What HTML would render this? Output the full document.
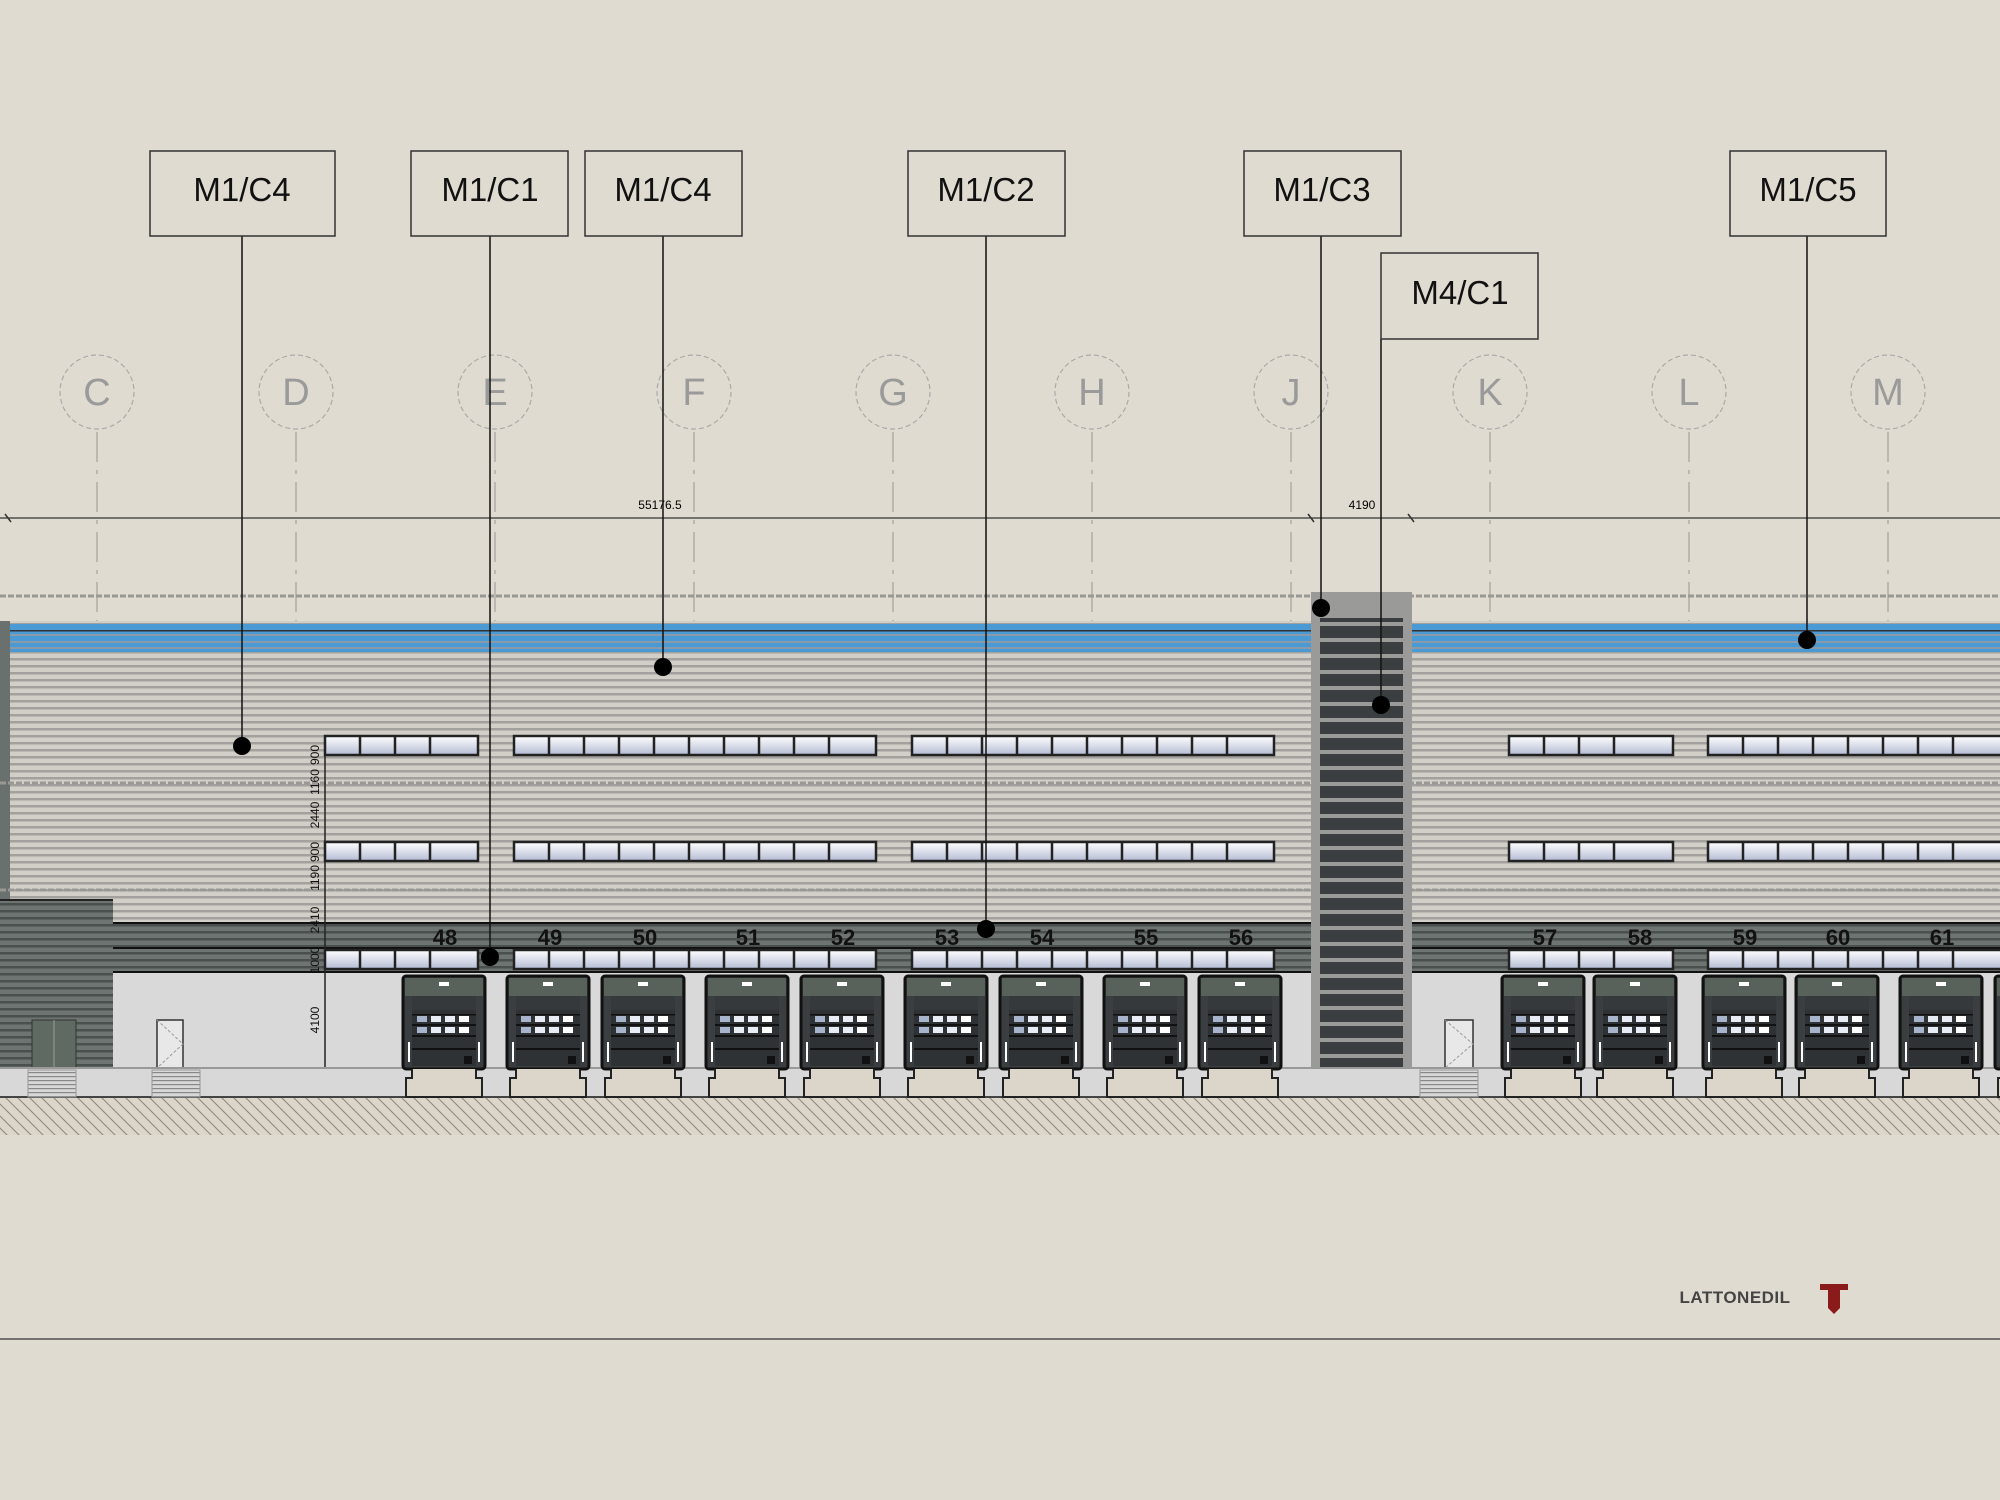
<!DOCTYPE html>
<html><head><meta charset="utf-8"><style>
html,body{margin:0;padding:0;background:#e0dbd0;}
svg{display:block;font-family:"Liberation Sans",sans-serif;}
</style></head><body>
<svg width="2000" height="1500" viewBox="0 0 2000 1500" xmlns="http://www.w3.org/2000/svg">
<defs>
<pattern id="sid" width="10" height="7" patternUnits="userSpaceOnUse">
<rect width="10" height="7" fill="#d2cfc8"/><rect y="0" width="10" height="2.5" fill="#a3a19d"/>
</pattern>
<pattern id="sidd" width="10" height="7" patternUnits="userSpaceOnUse">
<rect width="10" height="7" fill="#6e7472"/><rect y="0" width="10" height="2.5" fill="#4a504e"/>
</pattern>
<pattern id="stair" width="10" height="16" patternUnits="userSpaceOnUse">
<rect width="10" height="16" fill="#9a9a98"/><rect y="2" width="10" height="12" fill="#3a3e41"/>
</pattern>
<pattern id="hatch" width="12" height="12" patternUnits="userSpaceOnUse">
<rect width="12" height="12" fill="#dcd6ca"/><path d="M0,0 L12,12 M-6,6 L6,18 M6,-6 L18,6" stroke="#8a867e" stroke-width="1"/>
</pattern>
<pattern id="steps" width="10" height="4" patternUnits="userSpaceOnUse">
<rect width="10" height="4" fill="#d8d8d8"/><rect width="10" height="1.2" fill="#888"/>
</pattern>
<linearGradient id="glass" x1="0" y1="0" x2="0" y2="1">
<stop offset="0" stop-color="#ffffff"/><stop offset="1" stop-color="#b4bcd4"/>
</linearGradient>
<g id="wrow">
<rect x="325" y="0" width="153" height="19" fill="url(#glass)" stroke="#222" stroke-width="2.5"/>
<rect x="514" y="0" width="362" height="19" fill="url(#glass)" stroke="#222" stroke-width="2.5"/>
<rect x="912" y="0" width="362" height="19" fill="url(#glass)" stroke="#222" stroke-width="2.5"/>
<rect x="1509" y="0" width="164" height="19" fill="url(#glass)" stroke="#222" stroke-width="2.5"/>
<rect x="1708" y="0" width="300" height="19" fill="url(#glass)" stroke="#222" stroke-width="2.5"/>
<path d="M360,0v19M395,0v19M430,0v19M549,0v19M584,0v19M619,0v19M654,0v19M689,0v19M724,0v19M759,0v19M794,0v19M829,0v19M947,0v19M982,0v19M1017,0v19M1052,0v19M1087,0v19M1122,0v19M1157,0v19M1192,0v19M1227,0v19M1544,0v19M1579,0v19M1614,0v19M1743,0v19M1778,0v19M1813,0v19M1848,0v19M1883,0v19M1918,0v19M1953,0v19" stroke="#222" stroke-width="2.5" fill="none"/>
</g>
<g id="door">
<rect x="1" y="0" width="82" height="93" rx="3" fill="#3a3e40" stroke="#111" stroke-width="3"/>
<rect x="3" y="2" width="78" height="18" fill="#58625a"/>
<rect x="37" y="6" width="10" height="4" fill="#fff"/>
<rect x="10" y="20" width="64" height="70" fill="#2e3234"/>
<rect x="10" y="20" width="64" height="14" fill="#35393b"/>
<g fill="#e8ecf4"><rect x="15" y="40" width="10" height="6" fill="#a8b4cc"/><rect x="29" y="40" width="10" height="6"/><rect x="43" y="40" width="10" height="6"/><rect x="57" y="40" width="10" height="6" fill="#fff"/>
<rect x="15" y="51" width="10" height="6" fill="#a8b4cc"/><rect x="29" y="51" width="10" height="6"/><rect x="43" y="51" width="10" height="6"/><rect x="57" y="51" width="10" height="6" fill="#fff"/></g>
<rect x="10" y="38" width="64" height="1.5" fill="#111"/><rect x="10" y="48" width="64" height="2" fill="#111"/><rect x="10" y="59" width="64" height="2" fill="#111"/>
<rect x="10" y="72" width="64" height="2" fill="#111"/>
<rect x="6" y="66" width="2" height="20" fill="#fff"/><rect x="76" y="66" width="2" height="20" fill="#fff"/>
<rect x="62" y="80" width="8" height="8" fill="#111"/>
<path d="M10,93 L10,102 L4,102 L4,121 L80,121 L80,102 L74,102 L74,93" fill="#dcd6ca" stroke="#222" stroke-width="2"/>
</g>
</defs>

<!-- grid circles -->
<g font-size="38" fill="#9a9a9a" text-anchor="middle">
<g stroke="#aaa" stroke-width="1.2" stroke-dasharray="5,3" fill="none">
<circle cx="97" cy="392" r="37"/><circle cx="296" cy="392" r="37"/><circle cx="495" cy="392" r="37"/><circle cx="694" cy="392" r="37"/><circle cx="893" cy="392" r="37"/><circle cx="1092" cy="392" r="37"/><circle cx="1291" cy="392" r="37"/><circle cx="1490" cy="392" r="37"/><circle cx="1689" cy="392" r="37"/><circle cx="1888" cy="392" r="37"/>
</g>
<text x="97" y="405">C</text><text x="296" y="405">D</text><text x="495" y="405">E</text><text x="694" y="405">F</text><text x="893" y="405">G</text><text x="1092" y="405">H</text><text x="1291" y="405">J</text><text x="1490" y="405">K</text><text x="1689" y="405">L</text><text x="1888" y="405">M</text>
</g>
<g stroke="#b0aca4" stroke-width="1.5" stroke-dasharray="30,8,4,8">
<path d="M97,432V1135M296,432V1135M495,432V1135M694,432V1135M893,432V1135M1092,432V1135M1291,432V1135M1490,432V1135M1689,432V1135M1888,432V1135"/>
</g>

<!-- dimension line -->
<line x1="0" y1="518" x2="2000" y2="518" stroke="#333" stroke-width="1.2"/>
<g stroke="#333" stroke-width="1.5"><path d="M5,514l6,8M1308,514l6,8M1408,514l6,8"/></g>
<text x="660" y="509" font-size="12" text-anchor="middle">55176.5</text>
<text x="1362" y="509" font-size="12" text-anchor="middle">4190</text>

<!-- roof dashed line -->
<line x1="0" y1="596" x2="2000" y2="596" stroke="#9a9894" stroke-width="3" stroke-dasharray="6,2"/>

<!-- main wall -->
<rect x="0" y="621" width="2000" height="447" fill="url(#sid)"/>
<rect x="0" y="624" width="2000" height="28" fill="#4a9ad6"/>
<g fill="#8a9aa8"><rect x="0" y="634" width="2000" height="2"/><rect x="0" y="641" width="2000" height="2"/><rect x="0" y="647" width="2000" height="2"/></g>
<rect x="0" y="630" width="2000" height="1.5" fill="#333"/>
<rect x="0" y="621" width="10" height="447" fill="#6a706e"/>
<line x1="0" y1="783" x2="2000" y2="783" stroke="#9a9894" stroke-width="3" stroke-dasharray="6,2"/>
<line x1="0" y1="890" x2="2000" y2="890" stroke="#9a9894" stroke-width="3" stroke-dasharray="6,2"/>

<!-- dark band -->
<rect x="0" y="922" width="2000" height="26" fill="url(#sidd)"/>
<rect x="0" y="922" width="2000" height="2" fill="#111"/>
<rect x="0" y="948" width="2000" height="24" fill="url(#sidd)"/>
<rect x="0" y="947" width="2000" height="2" fill="#111"/>
<rect x="0" y="972" width="2000" height="96" fill="#d9d9d9"/>
<line x1="0" y1="972" x2="2000" y2="972" stroke="#111" stroke-width="2"/>

<!-- left annex -->
<rect x="0" y="900" width="113" height="168" fill="url(#sidd)"/>
<rect x="0" y="899" width="113" height="2" fill="#222"/>
<rect x="32" y="1020" width="44" height="48" fill="#5f6a63" stroke="#333"/>
<line x1="54" y1="1020" x2="54" y2="1068" stroke="#999"/>
<rect x="157" y="1020" width="26" height="48" fill="#e8e8e8" stroke="#333" stroke-width="1.5"/>
<path d="M157,1020 L183,1044 L157,1068" stroke="#999" fill="none" stroke-dasharray="3,2"/>

<!-- stair tower -->
<rect x="1311" y="592" width="101" height="476" fill="#9a9a98"/>
<rect x="1320" y="618" width="83" height="450" fill="url(#stair)"/>

<rect x="1445" y="1020" width="28" height="48" fill="#e8e8e8" stroke="#333" stroke-width="1.5"/>
<path d="M1445,1020 L1473,1044 L1445,1068" stroke="#999" fill="none" stroke-dasharray="3,2"/>

<!-- windows -->
<use href="#wrow" y="736"/>
<use href="#wrow" y="842"/>
<use href="#wrow" y="950"/>

<!-- vertical dimension -->
<line x1="325" y1="736" x2="325" y2="1068" stroke="#222" stroke-width="1.5"/>
<g font-size="12" fill="#111">
<text transform="translate(319,755) rotate(-90)" text-anchor="middle">900</text>
<text transform="translate(319,782) rotate(-90)" text-anchor="middle">1160</text>
<text transform="translate(319,815) rotate(-90)" text-anchor="middle">2440</text>
<text transform="translate(319,852) rotate(-90)" text-anchor="middle">900</text>
<text transform="translate(319,878) rotate(-90)" text-anchor="middle">1190</text>
<text transform="translate(319,920) rotate(-90)" text-anchor="middle">2410</text>
<text transform="translate(319,960) rotate(-90)" text-anchor="middle">1000</text>
<text transform="translate(319,1020) rotate(-90)" text-anchor="middle">4100</text>
</g>

<!-- ground -->
<rect x="0" y="1068" width="2000" height="29" fill="#d8d8d8"/>
<line x1="0" y1="1068" x2="2000" y2="1068" stroke="#999" stroke-width="2"/>
<rect x="0" y="1097" width="2000" height="38" fill="url(#hatch)"/>
<line x1="0" y1="1097" x2="2000" y2="1097" stroke="#444" stroke-width="2"/>
<rect x="28" y="1070" width="48" height="27" fill="url(#steps)" stroke="#999"/>
<rect x="152" y="1070" width="48" height="27" fill="url(#steps)" stroke="#999"/>
<rect x="1420" y="1070" width="58" height="27" fill="url(#steps)" stroke="#999"/>

<!-- doors -->
<use href="#door" x="402" y="976"/><use href="#door" x="506" y="976"/><use href="#door" x="601" y="976"/><use href="#door" x="705" y="976"/><use href="#door" x="800" y="976"/><use href="#door" x="904" y="976"/><use href="#door" x="999" y="976"/><use href="#door" x="1103" y="976"/><use href="#door" x="1198" y="976"/><use href="#door" x="1501" y="976"/><use href="#door" x="1593" y="976"/><use href="#door" x="1702" y="976"/><use href="#door" x="1795" y="976"/><use href="#door" x="1899" y="976"/><use href="#door" x="1994" y="976"/>
<g font-size="22" font-weight="bold" text-anchor="middle" fill="#111">
<text x="445" y="945">48</text><text x="550" y="945">49</text><text x="645" y="945">50</text><text x="748" y="945">51</text><text x="843" y="945">52</text><text x="947" y="945">53</text><text x="1042" y="945">54</text><text x="1146" y="945">55</text><text x="1241" y="945">56</text><text x="1545" y="945">57</text><text x="1640" y="945">58</text><text x="1745" y="945">59</text><text x="1838" y="945">60</text><text x="1942" y="945">61</text>
</g>

<!-- leaders -->
<g stroke="#111" stroke-width="1.5">
<path d="M242,236V746M490,236V957M663,236V667M986,236V929M1321,236V608M1381,339V705M1807,236V640"/>
</g>
<g fill="#000">
<circle cx="242" cy="746" r="9"/><circle cx="490" cy="957" r="9"/><circle cx="663" cy="667" r="9"/><circle cx="986" cy="929" r="9"/><circle cx="1321" cy="608" r="9"/><circle cx="1381" cy="705" r="9"/><circle cx="1807" cy="640" r="9"/>
</g>
<g fill="#e0dbd0" stroke="#333" stroke-width="1.5">
<rect x="150" y="151" width="185" height="85"/><rect x="411" y="151" width="157" height="85"/><rect x="585" y="151" width="157" height="85"/><rect x="908" y="151" width="157" height="85"/><rect x="1244" y="151" width="157" height="85"/><rect x="1381" y="253" width="157" height="86"/><rect x="1730" y="151" width="156" height="85"/>
</g>
<g font-size="33" text-anchor="middle" fill="#111">
<text x="242" y="201">M1/C4</text><text x="490" y="201">M1/C1</text><text x="663" y="201">M1/C4</text><text x="986" y="201">M1/C2</text><text x="1322" y="201">M1/C3</text><text x="1460" y="304">M4/C1</text><text x="1808" y="201">M1/C5</text>
</g>

<!-- footer -->
<line x1="0" y1="1339" x2="2000" y2="1339" stroke="#333" stroke-width="1.2"/>
<text x="1735" y="1303" font-size="17" font-weight="bold" fill="#444" text-anchor="middle" letter-spacing="0.5">LATTONEDIL</text>
<path d="M1820,1284 h28 v6 h-8 v18 l-6,6 l-6,-6 v-18 h-8z" fill="#8b1a1a"/>
</svg>
</body></html>
